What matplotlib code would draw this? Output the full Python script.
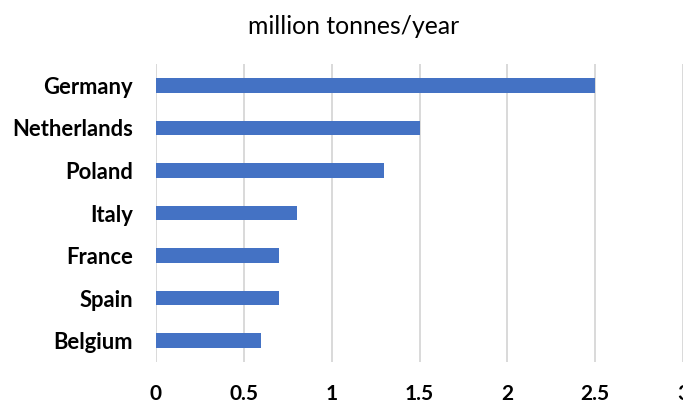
import matplotlib
matplotlib.use("Agg")
import matplotlib.pyplot as plt

countries = ["Germany", "Netherlands", "Poland", "Italy", "France", "Spain", "Belgium"]
values = [2.5, 1.5, 1.3, 0.8, 0.7, 0.7, 0.6]
xticks = [0, 0.5, 1, 1.5, 2, 2.5, 3]
xtick_labels = ["0", "0.5", "1", "1.5", "2", "2.5", "3"]
title = "million tonnes/year"

plt.rcParams['font.family'] = ['Lato', 'DejaVu Sans']

fig = plt.figure(figsize=(6.83, 4.03), dpi=100)
ax = fig.add_axes([156/683, 1 - 362/403, 1 - 156/683, (362 - 64)/403])

y = list(range(len(countries)))
ax.barh(y, values, height=0.34, color="#4472C4", zorder=3)
ax.set_ylim(len(countries) - 0.5, -0.5)
ax.set_xlim(0, 3)
ax.set_xticks(xticks)
ax.set_xticklabels(xtick_labels)
ax.set_yticks(y)
ax.set_yticklabels(countries)
for lab in ax.get_xticklabels():
    lab.set_fontweight("bold")
    lab.set_fontsize(15)
    lab.set_color("#000000")
for lab in ax.get_yticklabels():
    lab.set_fontweight("bold")
    lab.set_fontsize(15.8)
    lab.set_color("#000000")
ax.tick_params(axis="y", length=0, pad=16.5)
ax.tick_params(axis="x", length=0, pad=15.5)
ax.grid(axis="x", color="#D9D9D9", linewidth=1.4, zorder=0)
for s in ax.spines.values():
    s.set_visible(False)

fig.text(354/683, 1 - 26/403, title, ha="center", va="center", fontsize=17.8, color="#000000")

fig.savefig("out.png", dpi=100)
